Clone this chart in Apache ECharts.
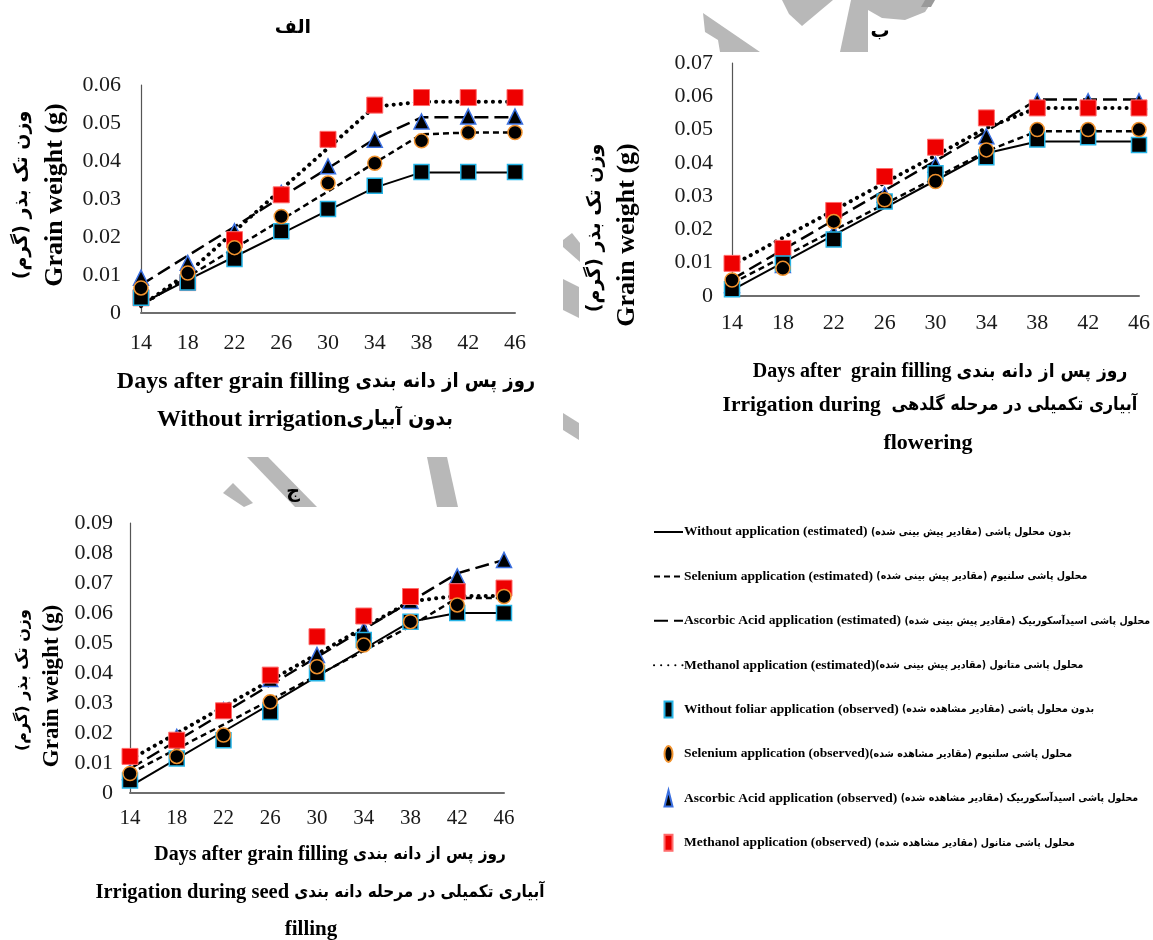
<!DOCTYPE html>
<html>
<head>
<meta charset="utf-8">
<script src="https://cdn.jsdelivr.net/npm/echarts@6/dist/echarts.min.js"></script>
<style>
  html, body { margin: 0; padding: 0; background: #ffffff; }
  #chart { width: 1153px; height: 940px; }
</style>
</head>
<body>
<div id="chart"></div>
<script>
// Days after grain filling (shared x categories)
const days = ['14', '18', '22', '26', '30', '34', '38', '42', '46'];

// Panel الف : without irrigation
const aWithoutEst   = [0.0024, 0.0087, 0.0148, 0.0209, 0.0270, 0.0330, 0.0370, 0.0370, 0.0370];
const aSeleniumEst  = [0.0020, 0.0095, 0.0170, 0.0245, 0.0320, 0.0395, 0.0470, 0.0475, 0.0475];
const aAscorbicEst  = [0.0074, 0.0151, 0.0227, 0.0305, 0.0381, 0.0458, 0.0515, 0.0515, 0.0515];
const aMethanolEst  = [0.0018, 0.0105, 0.0215, 0.0325, 0.0434, 0.0543, 0.0556, 0.0556, 0.0556];
const aWithoutObs   = [0.0040, 0.0080, 0.0142, 0.0215, 0.0274, 0.0335, 0.0371, 0.0371, 0.0371];
const aSeleniumObs  = [0.0066, 0.0105, 0.0172, 0.0254, 0.0342, 0.0394, 0.0453, 0.0475, 0.0475];
const aAscorbicObs  = [0.0093, 0.0132, 0.0215, 0.0316, 0.0386, 0.0456, 0.0504, 0.0517, 0.0517];
const aMethanolObs  = [0.0040, 0.0080, 0.0193, 0.0311, 0.0457, 0.0547, 0.0567, 0.0567, 0.0567];

// Panel ب : irrigation during flowering
const bWithoutEst   = [0.0018, 0.0100, 0.0183, 0.0265, 0.0347, 0.0429, 0.0464, 0.0464, 0.0464];
const bSeleniumEst  = [0.0038, 0.0117, 0.0197, 0.0276, 0.0355, 0.0435, 0.0495, 0.0495, 0.0495];
const bAscorbicEst  = [0.0050, 0.0139, 0.0228, 0.0317, 0.0406, 0.0495, 0.0590, 0.0590, 0.0590];
const bMethanolEst  = [0.0092, 0.0175, 0.0257, 0.0340, 0.0422, 0.0505, 0.0565, 0.0565, 0.0565];
const bWithoutObs   = [0.0020, 0.0098, 0.0170, 0.0284, 0.0369, 0.0417, 0.0470, 0.0477, 0.0454];
const bSeleniumObs  = [0.0048, 0.0083, 0.0224, 0.0289, 0.0344, 0.0439, 0.0500, 0.0500, 0.0500];
const bAscorbicObs  = [0.0033, 0.0093, 0.0189, 0.0304, 0.0394, 0.0480, 0.0585, 0.0585, 0.0585];
const bMethanolObs  = [0.0098, 0.0143, 0.0257, 0.0359, 0.0447, 0.0535, 0.0565, 0.0565, 0.0565];

// Panel ج : irrigation during seed filling
const cWithoutEst   = [0.0022, 0.0114, 0.0205, 0.0296, 0.0389, 0.0480, 0.0571, 0.0600, 0.0600];
const cSeleniumEst  = [0.0065, 0.0147, 0.0228, 0.0310, 0.0392, 0.0474, 0.0556, 0.0650, 0.0650];
const cAscorbicEst  = [0.0081, 0.0174, 0.0267, 0.0360, 0.0453, 0.0546, 0.0638, 0.0732, 0.0777];
const cMethanolEst  = [0.0111, 0.0199, 0.0287, 0.0375, 0.0463, 0.0551, 0.0639, 0.0657, 0.0657];
const cWithoutObs   = [0.0042, 0.0115, 0.0176, 0.0270, 0.0399, 0.0510, 0.0571, 0.0600, 0.0600];
const cSeleniumObs  = [0.0065, 0.0122, 0.0193, 0.0304, 0.0421, 0.0493, 0.0571, 0.0627, 0.0655];
const cAscorbicObs  = [0.0070, 0.0187, 0.0276, 0.0380, 0.0460, 0.0543, 0.0640, 0.0722, 0.0777];
const cMethanolObs  = [0.0122, 0.0176, 0.0274, 0.0393, 0.0521, 0.0590, 0.0655, 0.0671, 0.0683];

// Y axis ranges per panel
const yMax = [0.06, 0.07, 0.09];

// Legend rows: English part and Persian part of each series name
const legendEn = {
  withoutEst:  'Without application (estimated) ',
  seleniumEst: 'Selenium application (estimated) ',
  ascorbicEst: 'Ascorbic Acid application (estimated) ',
  methanolEst: 'Methanol application (estimated)',
  withoutObs:  'Without foliar application (observed) ',
  seleniumObs: 'Selenium application (observed)',
  ascorbicObs: 'Ascorbic Acid application (observed) ',
  methanolObs: 'Methanol application (observed) '
};
const legendFa = {
  withoutEst:  'بدون محلول پاشی (مقادیر پیش بینی شده)',
  seleniumEst: 'محلول پاشی سلنیوم (مقادیر پیش بینی شده)',
  ascorbicEst: 'محلول پاشی اسیدآسکوربیک (مقادیر پیش بینی شده)',
  methanolEst: 'محلول پاشی متانول (مقادیر پیش بینی شده)',
  withoutObs:  'بدون محلول پاشی (مقادیر مشاهده شده)',
  seleniumObs: 'محلول پاشی سلنیوم (مقادیر مشاهده شده)',
  ascorbicObs: 'محلول پاشی اسیدآسکوربیک (مقادیر مشاهده شده)',
  methanolObs: 'محلول پاشی متانول (مقادیر مشاهده شده)'
};
const N = {};
const richName = {};
Object.keys(legendEn).forEach(k => {
  N[k] = legendEn[k] + legendFa[k];
  richName[N[k]] = '{en|' + legendEn[k] + '}{fa|' + legendFa[k] + '}';
});

const SERIF = "'Liberation Serif', 'Times New Roman', 'DejaVu Sans Condensed', serif";
const PERSIAN = "'DejaVu Sans Condensed', 'DejaVu Sans', sans-serif";

const lineStyles = {
  without:  { color: '#000', width: 2, type: 'solid' },
  selenium: { color: '#000', width: 2.5, type: [6, 4] },
  ascorbic: { color: '#000', width: 2.5, type: [14, 6] },
  methanol: { color: '#000', width: 4, type: [0.1, 7], cap: 'round' }
};

const markers = {
  without:  { symbol: 'rect', size: 15, style: { color: '#000', borderColor: '#26b4e6', borderWidth: 1.5, opacity: 1 } },
  selenium: { symbol: 'circle', size: 14, style: { color: '#000', borderColor: '#f0922e', borderWidth: 1.5, opacity: 1 } },
  ascorbic: { symbol: 'triangle', size: 15, style: { color: '#000', borderColor: '#3a6fe0', borderWidth: 1.5, opacity: 1 } },
  methanol: { symbol: 'rect', size: 16, style: { color: '#ee0000', borderColor: '#ff6b6b', borderWidth: 1, opacity: 1 } }
};

function lineSeries(name, data, key, idx) {
  return {
    name, type: 'line', data, xAxisIndex: idx, yAxisIndex: idx,
    symbol: 'none', silent: true, z: 2,
    color: '#000', lineStyle: lineStyles[key]
  };
}
function dotSeries(name, data, key, idx) {
  const m = markers[key];
  return {
    name, type: 'scatter', data, xAxisIndex: idx, yAxisIndex: idx,
    symbol: m.symbol, symbolSize: m.size, z: 3, silent: true,
    itemStyle: m.style
  };
}
function panelSeries(idx, est, obs) {
  return [
    lineSeries(N.withoutEst, est[0], 'without', idx),
    lineSeries(N.seleniumEst, est[1], 'selenium', idx),
    lineSeries(N.ascorbicEst, est[2], 'ascorbic', idx),
    lineSeries(N.methanolEst, est[3], 'methanol', idx),
    // drawing order of the observed markers: triangle, red square, black square, circle
    dotSeries(N.ascorbicObs, obs[2], 'ascorbic', idx),
    dotSeries(N.methanolObs, obs[3], 'methanol', idx),
    dotSeries(N.withoutObs, obs[0], 'without', idx),
    dotSeries(N.seleniumObs, obs[1], 'selenium', idx)
  ];
}

const grids = [
  { left: 141, top: 85, width: 374, height: 228 },
  { left: 732, top: 63, width: 410, height: 233 },
  { left: 130, top: 523, width: 374, height: 270 }
];
const xLabelMargin = [19, 16, 15];
const yLabelMargin = [20, 19, 17];
const xLabelSize = [22, 22, 21];

const xAxes = grids.map((g, i) => ({
  type: 'category', gridIndex: i, data: days, boundaryGap: false,
  axisLine: { lineStyle: { color: '#6e6e6e', width: 2 } },
  axisTick: { show: false },
  axisLabel: { interval: 0, margin: xLabelMargin[i], fontFamily: SERIF, fontSize: xLabelSize[i], color: '#1a1a1a' },
  splitLine: { show: false }
}));
const yAxes = grids.map((g, i) => ({
  type: 'value', gridIndex: i, min: 0, max: yMax[i], interval: 0.01,
  axisLine: { show: true, lineStyle: { color: '#555', width: 1.2 } },
  axisTick: { show: false },
  axisLabel: { margin: yLabelMargin[i], fontFamily: SERIF, fontSize: 22, color: '#1a1a1a' },
  splitLine: { show: false }
}));

// Titles and axis captions
function txt(x, y, text, font, rot) {
  return {
    type: 'text', x, y, rotation: rot || 0, silent: true, z: 10,
    style: { text, font, fill: '#000', align: 'center', verticalAlign: 'middle' }
  };
}
// mixed English / Persian caption line
function mixed(x, y, en, fa, enSize, faSize) {
  return {
    type: 'text', x, y, silent: true, z: 10,
    style: {
      text: '{en|' + en + '}{fa|' + fa + '}',
      align: 'center', verticalAlign: 'middle', fill: '#000',
      rich: {
        en: { fontFamily: SERIF, fontWeight: 'bold', fontSize: enSize, fill: '#000' },
        fa: { fontFamily: PERSIAN, fontWeight: 'bold', fontSize: faSize, fill: '#000' }
      }
    }
  };
}
const B = (s) => 'bold ' + s + 'px ' + SERIF;
const FA = (s) => "bold " + s + "px 'DejaVu Sans', sans-serif";

const captions = [
  // panel titles
  txt(293, 28, 'الف', FA(19)),
  txt(880, 32, 'ب', FA(19)),
  txt(293, 492, 'ج', FA(19)),
  // y-axis captions
  txt(22, 195, 'وزن تک بذر (گرم)', FA(19), Math.PI / 2),
  txt(55, 195, 'Grain weight (g)', B(26), Math.PI / 2),
  txt(595, 228, 'وزن تک بذر (گرم)', FA(19), Math.PI / 2),
  txt(627, 235, 'Grain weight (g)', B(26), Math.PI / 2),
  txt(23, 680, 'وزن تک بذر (گرم)', FA(16), Math.PI / 2),
  txt(52, 686, 'Grain weight (g)', B(23), Math.PI / 2),
  // x-axis captions
  mixed(326, 382, 'Days after grain filling ', 'روز پس از دانه بندی', 24, 20),
  mixed(305, 420, 'Without irrigation', 'بدون آبیاری', 24, 20.5),
  mixed(940, 372, 'Days after  grain filling ', 'روز پس از دانه بندی', 20, 19),
  mixed(930, 405, 'Irrigation during  ', 'آبیاری تکمیلی در مرحله گلدهی', 21.5, 18),
  txt(928, 443, 'flowering', B(22)),
  mixed(330, 855, 'Days after grain filling ', 'روز پس از دانه بندی', 20, 17),
  mixed(320, 893, 'Irrigation during seed ', 'آبیاری تکمیلی در مرحله دانه بندی', 20.5, 17),
  txt(311, 930, 'filling', B(21))
];

// Grey watermark band fragments showing between the panels
const bandColor = '#b8b8b8';
const bandShapes = [
  [[703, 13], [760, 52], [720, 52], [718, 40], [705, 32]],
  [[782, 0], [833, 0], [802, 26], [789, 14]],
  [[851, 0], [868, 0], [868, 52], [840, 52]],
  [[868, 0], [933, 0], [925, 12], [905, 20], [882, 18], [868, 10]],
  [[925, 0], [935, 0], [931, 7], [921, 7]],
  [[563, 240], [572, 233], [580, 243], [580, 262], [563, 247]],
  [[563, 279], [579, 287], [579, 318], [563, 310]],
  [[563, 413], [579, 423], [579, 440], [563, 430]],
  [[233, 483], [253, 503], [244, 507], [223, 493]],
  [[247, 457], [268, 457], [317, 507], [295, 507]],
  [[427, 457], [447, 457], [458, 507], [437, 507]]
];
const bands = bandShapes.map((pts, i) => ({
  type: 'polygon', silent: true, z: -1,
  shape: { points: pts },
  style: { fill: i === 4 ? '#9a9a9a' : bandColor }
}));

const hideSymbol = { opacity: 0 };
const option = {
  animation: false,
  backgroundColor: '#ffffff',
  grid: grids,
  xAxis: xAxes,
  yAxis: yAxes,
  legend: {
    orient: 'vertical', left: 653, top: 522, padding: 0,
    itemWidth: 29, itemHeight: 16, itemGap: 24.4,
    selectedMode: false,
    formatter: (name) => richName[name] || name,
    textStyle: {
      color: '#000', padding: [0, 0, 0, -4], lineHeight: 20,
      rich: {
        en: { fontFamily: SERIF, fontWeight: 'bold', fontSize: 13.5, lineHeight: 20, color: '#000' },
        fa: { fontFamily: PERSIAN, fontWeight: 'bold', fontSize: 10.5, lineHeight: 20, color: '#000' }
      }
    },
    data: [
      { name: N.withoutEst, itemStyle: hideSymbol },
      { name: N.seleniumEst, itemStyle: hideSymbol },
      { name: N.ascorbicEst, itemStyle: hideSymbol },
      { name: N.methanolEst, itemStyle: hideSymbol },
      { name: N.withoutObs, icon: 'path://M0,0H1V2H0Z' },
      { name: N.seleniumObs, icon: 'path://M0.5,0A0.5,1,0,1,1,0.5,2A0.5,1,0,1,1,0.5,0Z' },
      { name: N.ascorbicObs, icon: 'path://M0.5,0L1,2L0,2Z' },
      { name: N.methanolObs, icon: 'path://M0,0H1V2H0Z' }
    ]
  },
  graphic: bands.concat(captions),
  series: [].concat(
    panelSeries(0, [aWithoutEst, aSeleniumEst, aAscorbicEst, aMethanolEst], [aWithoutObs, aSeleniumObs, aAscorbicObs, aMethanolObs]),
    panelSeries(1, [bWithoutEst, bSeleniumEst, bAscorbicEst, bMethanolEst], [bWithoutObs, bSeleniumObs, bAscorbicObs, bMethanolObs]),
    panelSeries(2, [cWithoutEst, cSeleniumEst, cAscorbicEst, cMethanolEst], [cWithoutObs, cSeleniumObs, cAscorbicObs, cMethanolObs])
  )
};

const chart = echarts.init(document.getElementById('chart'), null, { renderer: 'canvas' });
chart.setOption(option);
</script>
</body>
</html>
